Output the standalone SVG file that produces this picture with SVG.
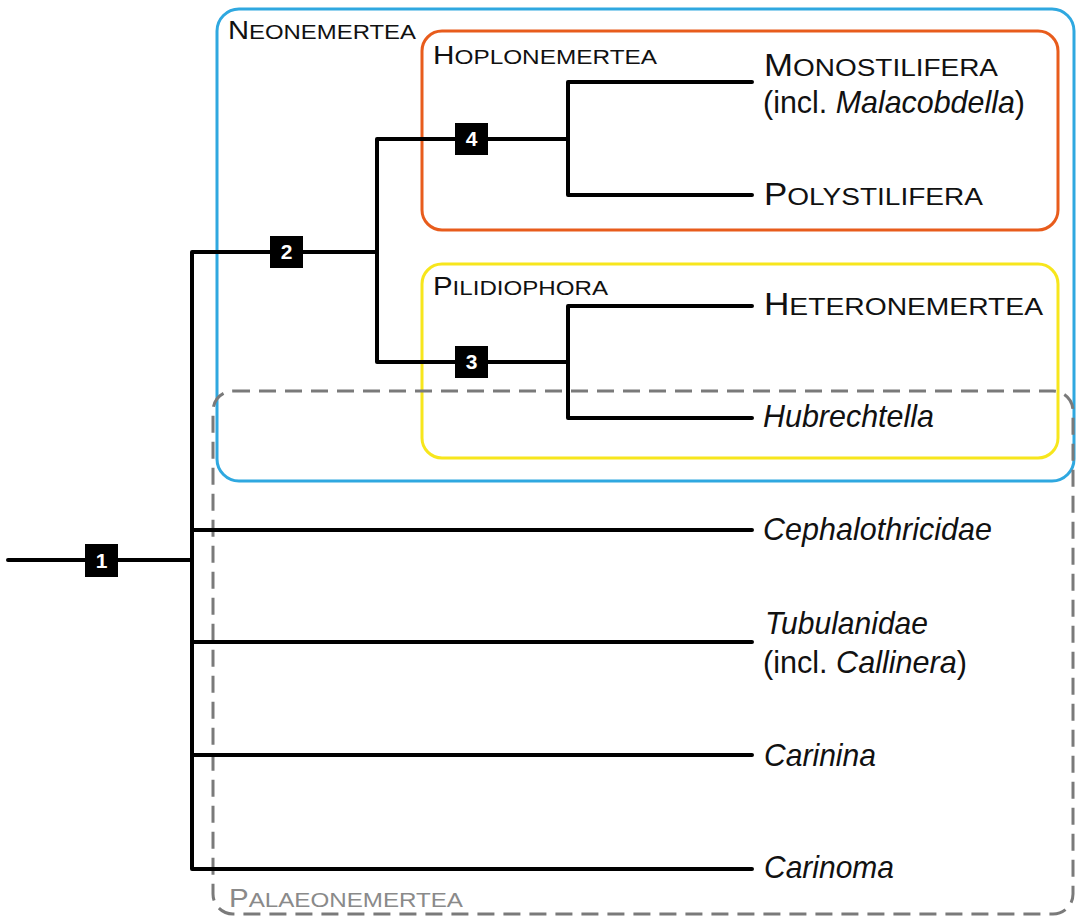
<svg xmlns="http://www.w3.org/2000/svg" width="1077" height="918" viewBox="0 0 1077 918">
<style>
.t{font-family:"Liberation Sans",Arial,sans-serif;fill:#111}
.big{font-size:30.5px}
.sc{font-size:24.5px}
.lbig{font-size:25px}
.lsc{font-size:20.5px}
.it{font-style:italic}
.br{stroke:#000;stroke-width:4;fill:none;stroke-linecap:round}
.nb{fill:#000}
.nt{font-family:"Liberation Sans",Arial,sans-serif;font-weight:bold;font-size:21px;fill:#fff;text-anchor:middle}
</style>
<rect width="1077" height="918" fill="#fff"/>
<g id="clades">
<rect id="neonemertea-box" x="217" y="9" width="857" height="472" rx="22" fill="none" stroke="#2fa8e0" stroke-width="3"/>
<rect id="hoplo-box" x="422" y="31" width="636" height="199" rx="20" fill="none" stroke="#e85c1c" stroke-width="3"/>
<rect id="pilidio-box" x="422" y="264" width="636" height="194" rx="20" fill="none" stroke="#f7e61c" stroke-width="3"/>
<rect id="palaeo-box" x="213" y="391" width="860" height="523" rx="20" fill="none" stroke="#7a7a7a" stroke-width="3" stroke-dasharray="17,9"/>
</g>
<g id="connectors">
<path class="br" d="M8 560H192M192 252V869M192 252H377M377 139V362M377 139H568M568 82V195M568 82H752M568 195H752M377 362H568M568 306V418M568 306H752M568 418H752M192 530H752M192 642H752M192 755H752M192 869H752"/>
</g>
<g id="node1"><rect class="nb" x="85" y="544" width="33" height="33"/><text class="nt" x="101.5" y="568">1</text></g>
<g id="node2"><rect class="nb" x="270" y="236" width="33" height="32"/><text class="nt" x="286.5" y="259">2</text></g>
<g id="node3"><rect class="nb" x="455" y="346" width="33" height="32"/><text class="nt" x="471.5" y="369">3</text></g>
<g id="node4"><rect class="nb" x="455" y="123" width="33" height="32"/><text class="nt" x="471.5" y="146">4</text></g>
<g id="labels">
<text class="t lbig" x="228" y="39" textLength="188" lengthAdjust="spacingAndGlyphs">N<tspan class="lsc">EONEMERTEA</tspan></text>
<text class="t lbig" x="433" y="64" textLength="224" lengthAdjust="spacingAndGlyphs">H<tspan class="lsc">OPLONEMERTEA</tspan></text>
<text class="t lbig" x="433" y="295" textLength="175" lengthAdjust="spacingAndGlyphs">P<tspan class="lsc">ILIDIOPHORA</tspan></text>
<text class="t lbig" x="229" y="907" style="fill:#8a8a8a" textLength="234" lengthAdjust="spacingAndGlyphs">P<tspan class="lsc">ALAEONEMERTEA</tspan></text>
<text class="t big" x="764" y="76" textLength="234" lengthAdjust="spacingAndGlyphs">M<tspan class="sc">ONOSTILIFERA</tspan></text>
<text class="t big" x="763" y="113" textLength="262" lengthAdjust="spacingAndGlyphs">(incl. <tspan class="it">Malacobdella</tspan>)</text>
<text class="t big" x="764" y="205" textLength="219" lengthAdjust="spacingAndGlyphs">P<tspan class="sc">OLYSTILIFERA</tspan></text>
<text class="t big" x="764" y="315" textLength="279" lengthAdjust="spacingAndGlyphs">H<tspan class="sc">ETERONEMERTEA</tspan></text>
<text class="t big it" x="763" y="427" textLength="171" lengthAdjust="spacingAndGlyphs">Hubrechtella</text>
<text class="t big it" x="763" y="540" textLength="229" lengthAdjust="spacingAndGlyphs">Cephalothricidae</text>
<text class="t big it" x="765" y="634" textLength="163" lengthAdjust="spacingAndGlyphs">Tubulanidae</text>
<text class="t big" x="763" y="673" textLength="204" lengthAdjust="spacingAndGlyphs">(incl. <tspan class="it">Callinera</tspan>)</text>
<text class="t big it" x="764" y="766" textLength="112" lengthAdjust="spacingAndGlyphs">Carinina</text>
<text class="t big it" x="764" y="878" textLength="130" lengthAdjust="spacingAndGlyphs">Carinoma</text>
</g>
</svg>
